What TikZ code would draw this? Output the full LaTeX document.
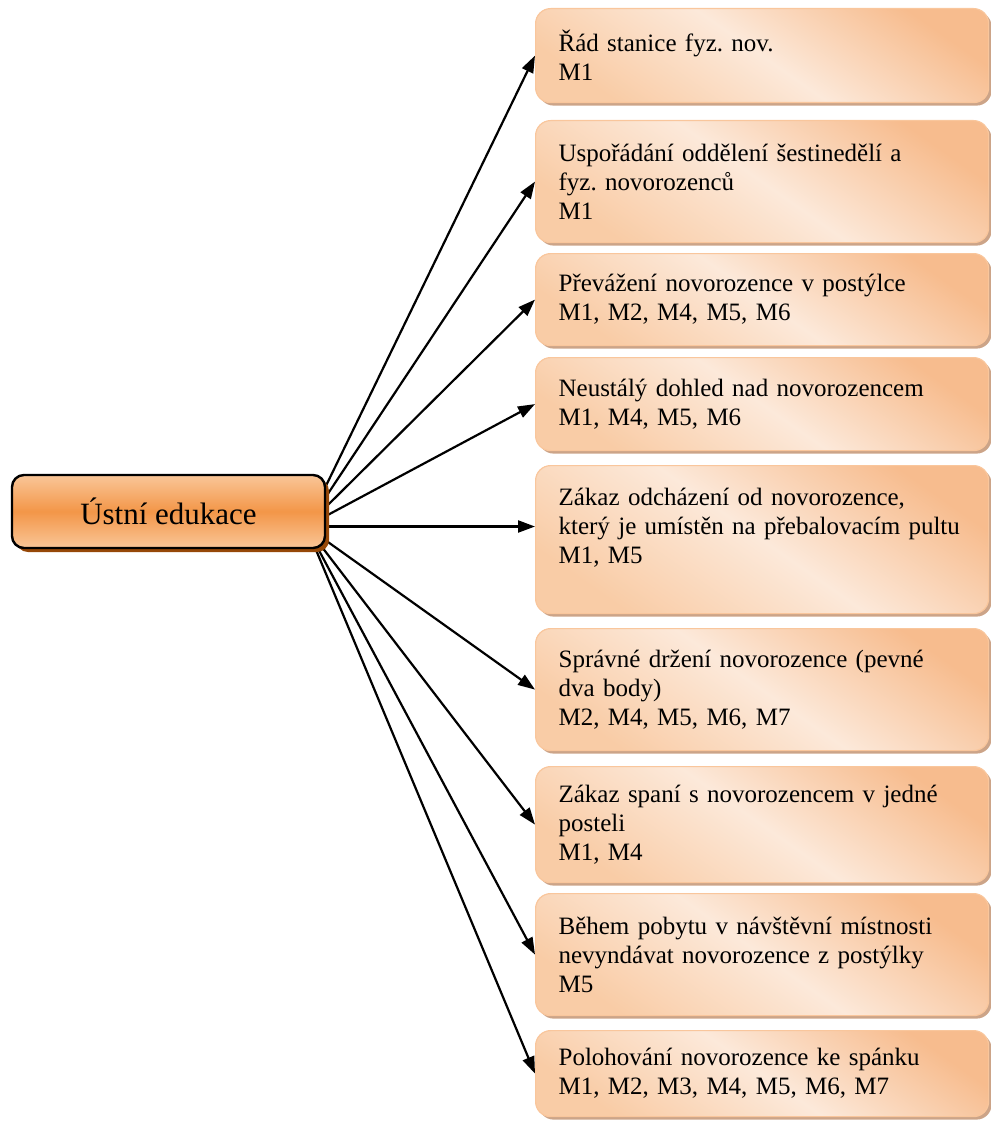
\documentclass[tikz,border=0pt]{standalone}
\usepackage{fontspec}
\setmainfont{Liberation Serif}
\usetikzlibrary{positioning,shadows,arrows.meta,backgrounds,calc}
\frenchspacing

\definecolor{orangeM}{RGB}{243,150,72}
\definecolor{orangeL}{RGB}{249,198,152}
\definecolor{brownS}{RGB}{150,72,8}
\definecolor{peachD}{RGB}{247,188,142}
\definecolor{peachM}{RGB}{249,204,166}
\definecolor{peachL}{RGB}{252,233,218}
\definecolor{peachB}{RGB}{249,198,156}
\definecolor{shadowC}{RGB}{204,164,136}

\tikzset{
  topic/.style={draw=black, line width=2.4pt, rounded corners=12pt,
    top color=orangeL, bottom color=orangeL, middle color=orangeM,
    general shadow={fill=brownS, shadow xshift=4pt, shadow yshift=-4pt},
    minimum width=313pt, minimum height=73pt,
    font=\fontsize{31}{36}\selectfont},
  item/.style={draw=peachB, line width=1.2pt, rounded corners=15pt,
    top color=peachD, bottom color=peachM, middle color=peachL, shading angle=-35,
    general shadow={fill=shadowC, shadow xshift=3pt, shadow yshift=-3pt},
    text width=407pt, inner xsep=23pt, align=left, anchor=north west,
    font=\fontsize{25}{29}\selectfont},
  arr/.style={line width=2.2pt, -{Triangle[length=17pt,width=12pt]}},
}

\begin{document}
\begin{tikzpicture}[x=1pt, y=-1pt]
    \useasboundingbox (0,0) rectangle (990,1121);

    % Topic
    \node[topic] (main) at (168.5, 511.5) {Ústní edukace};
    \coordinate (hub) at ($(main.east)+(-20,15)$);

    % Items
    \node[item, minimum height=94pt] (b1) at (535, 8) {Řád stanice fyz. nov.\\M1};
    \node[item, minimum height=122pt] (b2) at (535, 120) {Uspořádání oddělení šestinedělí a\\fyz. novorozenců\\M1};
    \node[item, minimum height=92pt] (b3) at (535, 253) {Převážení novorozence v postýlce\\M1, M2, M4, M5, M6};
    \node[item, minimum height=93pt] (b4) at (535, 357) {Neustálý dohled nad novorozencem\\M1, M4, M5, M6};
    \node[item, minimum height=148pt, text depth=86pt] (b5) at (535, 465) {Zákaz odcházení od novorozence,\\který je umístěn na přebalovacím pultu\\M1, M5};
    \node[item, minimum height=122pt] (b6) at (535, 628) {Správné držení novorozence (pevné\\dva body)\\M2, M4, M5, M6, M7};
    \node[item, minimum height=116pt] (b7) at (535, 766) {Zákaz spaní s novorozencem v jedné\\posteli\\M1, M4};
    \node[item, minimum height=122pt] (b8) at (535, 893) {Během pobytu v návštěvní místnosti\\nevyndávat novorozence z postýlky\\M5};
    \node[item, minimum height=86pt] (b9) at (535, 1030) {Polohování novorozence ke spánku\\M1, M2, M3, M4, M5, M6, M7};

    % Arrows
    \begin{pgfonlayer}{background}
        \draw[arr] (hub) -- (b1.west);
        \draw[arr] (hub) -- (b2.west);
        \draw[arr] (hub) -- (b3.west);
        \draw[arr] (hub) -- (b4.west);
        \draw[arr] (hub) -- (b5.west |- hub);
        \draw[arr] (hub) -- (b6.west);
        \draw[arr] (hub) -- (b7.west);
        \draw[arr] (hub) -- (b8.west);
        \draw[arr] (hub) -- (b9.west);
    \end{pgfonlayer}
\end{tikzpicture}
\end{document}
